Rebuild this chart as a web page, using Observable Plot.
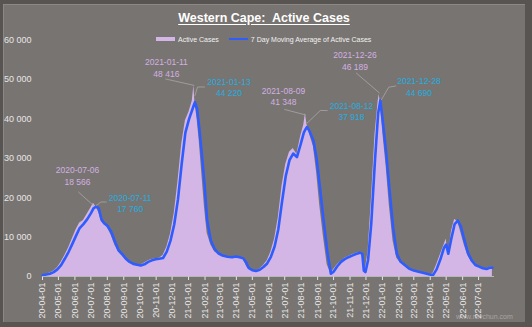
<!DOCTYPE html>
<html><head><meta charset="utf-8">
<script src="https://cdn.jsdelivr.net/npm/d3@7"></script>
<script src="https://cdn.jsdelivr.net/npm/@observablehq/plot@0.6"></script>
<style>
html,body{margin:0;padding:0;background:#5a5755;}
#wrap{position:relative;width:532px;height:327px;overflow:hidden;background:#575452;}
#panel{position:absolute;left:3px;top:4px;width:522px;height:318px;background:#787471;box-shadow:inset 1px 1px 0 #8c8886;}
#title{position:absolute;left:3px;top:12px;width:522px;text-align:center;font:bold 12.5px "Liberation Sans",Arial,sans-serif;line-height:12.5px;color:#fff;white-space:pre;}
#title span{text-decoration:underline;text-underline-offset:2px;}
#legend{position:absolute;top:35px;left:156px;height:8px;font:7px "Liberation Sans",Arial,sans-serif;color:#f2f2f2;white-space:nowrap;display:flex;align-items:center;}
.sw{display:inline-block;width:19px;margin-right:3px;}
#wm{position:absolute;left:456px;top:313px;font:7px "Liberation Sans",Arial,sans-serif;color:#a9a5a3;}
svg{position:absolute;left:0;top:0;}
</style></head>
<body>
<div id="wrap">
<div id="panel"></div>
<div id="title"><span>Western Cape:  Active Cases</span></div>
<div id="legend"><span class="sw" style="height:4px;background:#d3b5e6"></span><span style="margin-right:10px">Active Cases</span><span class="sw" style="height:2px;background:#2f5cff"></span><span>7 Day Moving Average of Active Cases</span></div>
<div id="wm">www.ravchun.com</div>
</div>
<script>
const dates = ["2020-04-01","2020-04-08","2020-04-15","2020-04-22","2020-04-29","2020-05-06","2020-05-13","2020-05-20","2020-05-27","2020-06-03","2020-06-10","2020-06-17","2020-06-24","2020-07-01","2020-07-06","2020-07-11","2020-07-16","2020-07-21","2020-07-26","2020-08-01","2020-08-08","2020-08-15","2020-08-22","2020-08-29","2020-09-05","2020-09-12","2020-09-19","2020-09-26","2020-10-03","2020-10-10","2020-10-17","2020-10-24","2020-10-31","2020-11-07","2020-11-14","2020-11-21","2020-11-28","2020-12-05","2020-12-12","2020-12-19","2020-12-26","2021-01-02","2021-01-08","2021-01-11","2021-01-13","2021-01-17","2021-01-21","2021-01-26","2021-01-31","2021-02-05","2021-02-12","2021-02-19","2021-02-26","2021-03-06","2021-03-15","2021-03-24","2021-03-31","2021-04-07","2021-04-14","2021-04-20","2021-04-24","2021-05-01","2021-05-08","2021-05-15","2021-05-22","2021-05-29","2021-06-05","2021-06-12","2021-06-19","2021-06-26","2021-07-03","2021-07-10","2021-07-17","2021-07-24","2021-07-31","2021-08-06","2021-08-09","2021-08-12","2021-08-17","2021-08-24","2021-08-30","2021-09-05","2021-09-12","2021-09-19","2021-09-26","2021-10-01","2021-10-08","2021-10-15","2021-10-22","2021-10-29","2021-11-05","2021-11-12","2021-11-20","2021-11-24","2021-11-27","2021-11-30","2021-12-05","2021-12-11","2021-12-18","2021-12-24","2021-12-26","2021-12-28","2022-01-02","2022-01-08","2022-01-14","2022-01-21","2022-01-28","2022-02-04","2022-02-12","2022-02-20","2022-03-01","2022-03-10","2022-03-20","2022-03-31","2022-04-06","2022-04-13","2022-04-20","2022-04-27","2022-05-01","2022-05-05","2022-05-11","2022-05-17","2022-05-23","2022-05-29","2022-06-04","2022-06-11","2022-06-18","2022-06-25","2022-07-02","2022-07-09","2022-07-16","2022-07-23","2022-07-27"];
const activeCases = [300,600,900,1400,2200,3600,5300,7200,9500,11800,13600,14200,15800,17400,18566,17600,16200,13800,13300,12400,10500,8000,6200,5200,4100,3400,3000,2900,2900,3400,4000,4300,4500,4600,5300,7400,10800,16000,24000,33500,39500,41800,44500,48416,44000,40000,34500,26000,17500,11000,8000,6300,5600,5100,4900,4950,5100,4800,4400,2600,1900,1500,1400,1900,2800,4000,6200,9500,15000,23000,28500,31500,32500,31000,35500,38500,41348,38500,36000,33000,26500,18000,10000,3000,700,1800,3000,3900,4600,5100,5500,5900,6100,5500,1200,1800,6500,19000,36000,44500,46189,44000,36000,28000,18000,9000,4600,3400,2600,1800,1400,1100,800,400,700,3000,5500,8000,9500,5200,11500,14500,13800,11000,8000,5200,3700,2700,2300,2000,2000,2400,2300];
const movingAverage = [300,500,700,1100,1800,2900,4500,6200,8200,10300,12300,13300,14500,16000,17300,17760,17300,14500,13500,12900,11500,9000,6700,5700,4500,3700,3200,3000,2800,3100,3700,4100,4400,4500,4700,6300,9100,13200,19500,28500,36500,40000,42300,43500,44220,42500,37900,31000,23500,14200,9100,7000,5900,5300,5000,4900,5100,4900,4600,3400,2200,1600,1400,1700,2400,3300,5000,7600,12000,19000,25500,29500,31200,30300,33500,36500,37300,37918,36800,34500,30000,23000,14500,6500,700,1200,2600,3700,4400,4900,5300,5700,6000,5800,1500,1100,4200,13500,29500,41500,43000,44690,39000,31500,22500,12500,5800,3800,2900,2000,1500,1200,900,500,300,1800,4300,7300,8100,5800,9800,13300,14200,12600,9400,6000,4100,2900,2500,2100,1900,2300,2200];
const yTicks = [0,10000,20000,30000,40000,50000,60000];
const tickMonths = d3.utcMonths(new Date("2020-04-01"), new Date("2022-07-02"));

// annotations: peak date, value, series
const annDates = ["2020-07-06","2020-07-11","2021-01-11","2021-01-13","2021-08-09","2021-08-12","2021-12-26","2021-12-28"];
const annValues = [18566,17760,48416,44220,41348,37918,46189,44690];
const annSeries = ["active","ma","active","ma","active","ma","active","ma"];
// label offsets (px) – layout
const annDx = [-16,34,-27.5,34,-22,44.4,-24.3,38.6];
const annDy = [-27.8,-3.8,-18.4,-15.2,-17.7,-16.3,-34.2,-14];
// leader lines in data space
const leaders = [
  [["2020-06-08",21390],["2020-07-06",18000]],
  [["2020-07-11",18000],["2020-07-20",18900],["2020-07-30",18900]],
  [["2020-11-19",50100],["2021-01-11",48500]],
  [["2021-01-13",45900],["2021-01-18",48080],["2021-01-31",48080]],
  [["2021-07-01",42370],["2021-08-09",41000]],
  [["2021-08-12",38900],["2021-09-06",42110],["2021-09-19",42110]],
  [["2021-11-13",51580],["2021-12-26",46600]],
  [["2021-12-30",44830],["2022-01-13",48030],["2022-01-26",48330]]
];

const rows = dates.map((d,i)=>({date:new Date(d), active:activeCases[i], ma:movingAverage[i]}));
const fmt = v => d3.format(",")(v).replace(/,/g," ");
const leaderPts = leaders.flatMap((l,k)=>l.map(([d,v])=>({id:k,date:new Date(d),v})));

const annMarks = annDates.map((d,i)=>Plot.text([{date:new Date(d), v:annValues[i], label:d+"\n"+fmt(annValues[i])}], {
  x:"date", y:"v", text:"label", dx:annDx[i], dy:annDy[i], lineAnchor:"middle", lineHeight:1.35,
  fontSize:8.5, fill: annSeries[i]==="active" ? "#d2b0e2" : "#22aee0"
}));

const chart = Plot.plot({
  width:532, height:327,
  marginLeft:42, marginRight:38, marginTop:39.5, marginBottom:51,
  style:{background:"transparent", color:"#e6e6e6", fontFamily:"Liberation Sans, Arial, sans-serif", fontSize:"9px", overflow:"visible"},
  x:{type:"utc", domain:[new Date("2020-04-01"), new Date("2022-07-31")], ticks:tickMonths, tickFormat:d3.utcFormat("%y-%m-%d"), tickRotate:-90, tickSize:4, tickPadding:2, label:null},
  y:{domain:[0,60000], ticks:yTicks, tickFormat:fmt, tickSize:0, tickPadding:11, label:null},
  marks:[
    Plot.areaY(rows,{x:"date", y:"active", fill:"#d3b5e6"}),
    Plot.lineY(rows,{x:"date", y:"ma", stroke:"#2f5cff", strokeWidth:2.6}),
    Plot.ruleY([0],{stroke:"#c8c8c8", strokeWidth:0.8}),
    Plot.line(leaderPts,{x:"date", y:"v", z:"id", stroke:"#a9a6a4", strokeWidth:0.8}),
    ...annMarks
  ]
});
document.getElementById("wrap").appendChild(chart);
</script>
</body></html>
